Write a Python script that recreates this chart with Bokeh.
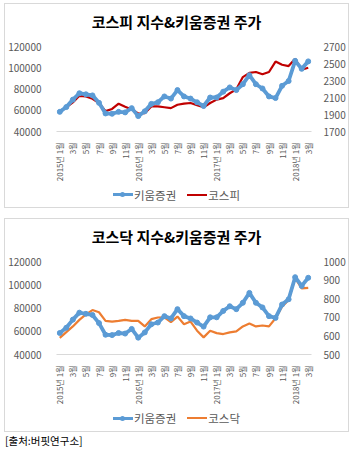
import math
from bokeh.plotting import figure
from bokeh.models import Range1d, LinearAxis, FixedTicker, Div, NumeralTickFormatter
from bokeh.layouts import column
from bokeh.embed import file_html
from bokeh.resources import INLINE

# ---- data (monthly, 2015-01 .. 2018-03) ----
month_idx = list(range(39))
tick_pos = list(range(0, 39, 2))
tick_labels = ["2015년 1월", "3월", "5월", "7월", "9월", "11월",
               "2016년 1월", "3월", "5월", "7월", "9월", "11월",
               "2017년 1월", "3월", "5월", "7월", "9월", "11월",
               "2018년 1월", "3월"]

kiwoom = [58500, 63000, 70000, 76000, 75000, 74000, 67000, 57000, 56700, 58500,
          58000, 62000, 54500, 59000, 66000, 67500, 73000, 71000, 79000, 73000,
          71000, 67500, 64000, 72000, 72000, 77500, 81500, 79000, 84500, 93000,
          84500, 80500, 73000, 71500, 83000, 87500, 106500, 99000, 106000]

kospi = [1940, 1985, 2042, 2120, 2112, 2085, 2035, 1940, 1965, 2027,
         1990, 1960, 1912, 1915, 1995, 1995, 1985, 1975, 2015, 2027,
         2035, 2010, 1985, 2035, 2075, 2092, 2150, 2196, 2340, 2390,
         2400, 2373, 2400, 2523, 2485, 2470, 2555, 2427, 2450]

kosdaq = [589, 620, 651, 686, 716, 739, 727, 681, 677, 681,
          686, 681, 681, 651, 690, 699, 700, 674, 704, 663,
          677, 628, 592, 628, 615, 610, 619, 624, 651, 667,
          651, 656, 651, 695, 757, 793, 911, 855, 858]

left_ticks = [40000, 60000, 80000, 100000, 120000]
kospi_ticks = [1700, 1900, 2100, 2300, 2500, 2700]
kosdaq_ticks = [500, 600, 700, 800, 900, 1000]

FONT = "Noto Sans CJK KR"
GRAY = "#595959"
BLUE = "#5B9BD5"
BORDER = "#d9d9d9"


def make_chart(idx_vals, idx_color, idx_ticks, height, frame_top, frame_h):
    p = figure(width=343, height=height, output_backend="svg", toolbar_location=None,
               x_range=Range1d(-0.5, 38.5), y_range=Range1d(40000, 120000),
               min_border_left=47, min_border_right=36,
               min_border_top=frame_top, min_border_bottom=height - frame_top - frame_h,
               background_fill_color="white", border_fill_color="white")
    p.outline_line_color = None
    p.xgrid.visible = False
    p.ygrid.visible = False

    p.extra_y_ranges = {"r": Range1d(idx_ticks[0], idx_ticks[-1])}

    p.line(month_idx, idx_vals, y_range_name="r", color=idx_color, line_width=2.2)
    p.line(month_idx, kiwoom, color=BLUE, line_width=3.8)
    p.scatter(month_idx, kiwoom, color=BLUE, size=5)

    xa = p.xaxis[0]
    xa.ticker = FixedTicker(ticks=tick_pos)
    xa.major_label_overrides = {t: l for t, l in zip(tick_pos, tick_labels)}
    xa.major_label_orientation = math.pi / 2
    xa.major_label_text_font = FONT
    xa.major_label_text_font_size = "8px"
    xa.major_label_text_color = GRAY
    xa.axis_line_color = BORDER
    xa.major_tick_line_color = None
    xa.minor_tick_line_color = None
    xa.major_label_standoff = 5

    ya = p.yaxis[0]
    ya.ticker = FixedTicker(ticks=left_ticks)
    ya.formatter = NumeralTickFormatter(format="0")
    ya.major_label_text_font = FONT
    ya.major_label_text_font_size = "10px"
    ya.major_label_text_color = GRAY
    ya.axis_line_color = None
    ya.major_tick_line_color = None
    ya.minor_tick_line_color = None
    ya.major_label_standoff = 9

    ra = LinearAxis(y_range_name="r", ticker=FixedTicker(ticks=idx_ticks),
                    formatter=NumeralTickFormatter(format="0"))
    ra.major_label_text_font = FONT
    ra.major_label_text_font_size = "10px"
    ra.major_label_text_color = GRAY
    ra.axis_line_color = None
    ra.major_tick_line_color = None
    ra.minor_tick_line_color = None
    ra.major_label_standoff = 6
    p.add_layout(ra, "right")
    return p


def title_div(title):
    html = ('<div style="width:343px;text-align:center;padding-top:8px;line-height:20px;'
            'font-family:\'Noto Sans CJK KR\';font-size:15px;font-weight:bold;color:black;">'
            '%s</div>' % title)
    return Div(text=html, width=343, height=30, margin=0)


def legend_div(idx_name, idx_color, height, pad_top):
    html = (
        '<div style="display:flex;justify-content:center;align-items:center;margin-top:%dpx;'
        'width:343px;height:16px;font-family:\'Noto Sans CJK KR\';font-size:11.5px;color:%s;">'
        '<span style="display:inline-block;position:relative;width:20px;height:3px;background:%s;">'
        '<span style="position:absolute;left:7px;top:-1px;width:5px;height:5px;'
        'border-radius:50%%;background:%s;"></span></span>'
        '<span style="margin-left:1px;line-height:16px;">키움증권</span>'
        '<span style="display:inline-block;width:20px;height:2px;background:%s;margin-left:11px;"></span>'
        '<span style="margin-left:1px;line-height:16px;">%s</span>'
        '</div>' % (pad_top, GRAY, BLUE, BLUE, idx_color, idx_name)
    )
    return Div(text=html, width=343, height=height, margin=0)


t1 = title_div("코스피 지수&키움증권 주가")
p1 = make_chart(kospi, "#C00000", kospi_ticks, 150, 12, 87)
p1.margin = 0
l1 = legend_div("코스피", "#C00000", 23, -2)
box1 = column(t1, p1, l1, spacing=0, margin=(3, 0, 0, 4),
              styles={"border": "1px solid " + BORDER})

t2 = title_div("코스닥 지수&키움증권 주가")
p2 = make_chart(kosdaq, "#ED7D31", kosdaq_ticks, 158, 12, 94)
p2.margin = 0
l2 = legend_div("코스닥", "#ED7D31", 24, 3)
box2 = column(t2, p2, l2, spacing=0, margin=(10, 0, 0, 4),
              styles={"border": "1px solid " + BORDER})

src = Div(text="[출처:버핏연구소]", margin=(1, 0, 0, 5),
          styles={"font-family": FONT, "font-size": "10.5px", "color": "black"})

layout = column(box1, box2, src, spacing=0)
open("out.html", "w").write(file_html(layout, INLINE))
